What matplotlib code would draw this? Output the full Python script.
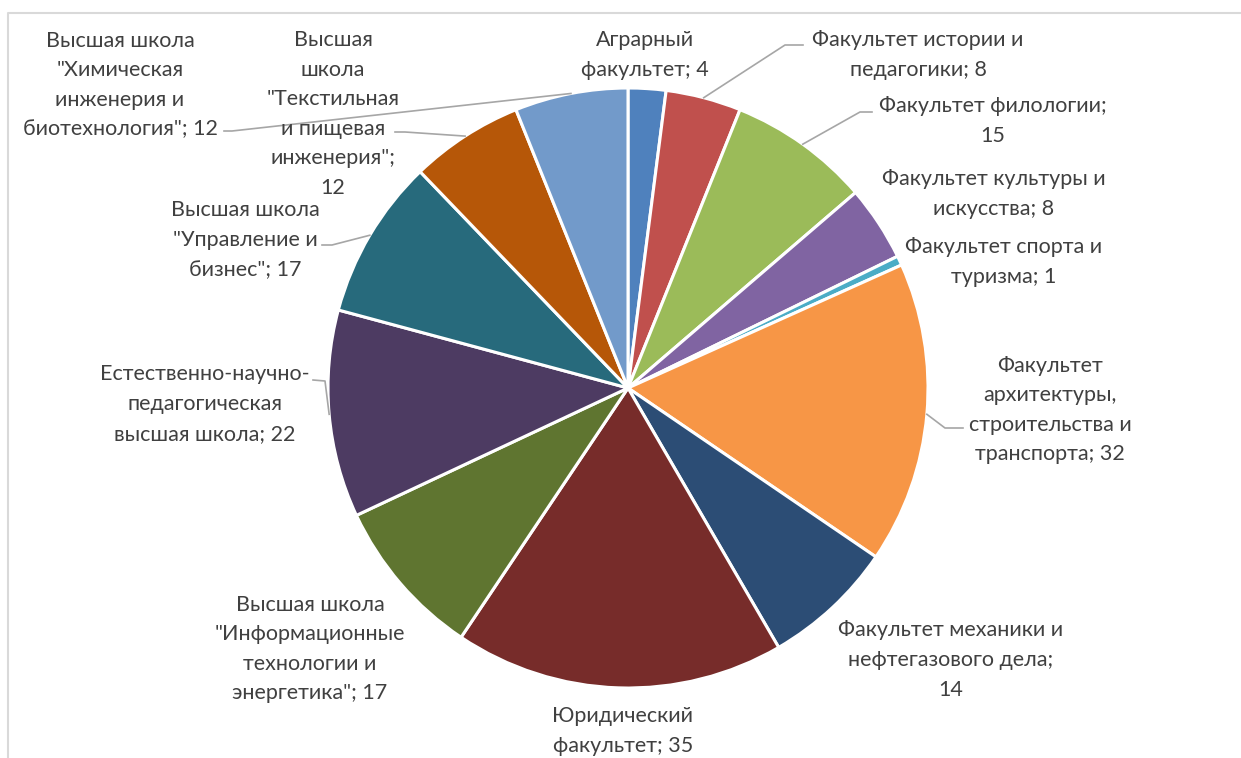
import matplotlib
matplotlib.use("Agg")
import matplotlib.pyplot as plt
import numpy as np

W, H = 1241, 758

labels = [
    "Аграрный\nфакультет; 4",
    "Факультет истории и\nпедагогики; 8",
    "Факультет филологии;\n15",
    "Факультет культуры и\nискусства; 8",
    "Факультет спорта и\nтуризма; 1",
    "Факультет\nархитектуры,\nстроительства и\nтранспорта; 32",
    "Факультет механики и\nнефтегазового дела;\n14",
    "Юридический\nфакультет; 35",
    "Высшая школа\n\"Информационные\nтехнологии и\nэнергетика\"; 17",
    "Естественно-научно-\nпедагогическая\nвысшая школа; 22",
    "Высшая школа\n\"Управление и\nбизнес\"; 17",
    "Высшая\nшкола\n\"Текстильная\nи пищевая\nинженерия\";\n12",
    "Высшая школа\n\"Химическая\nинженерия и\nбиотехнология\"; 12",
]
values = [4, 8, 15, 8, 1, 32, 14, 35, 17, 22, 17, 12, 12]
colors = ["#4F81BD", "#C0504D", "#9BBB59", "#8064A2", "#4BACC6", "#F79646",
          "#2C4D75", "#772C2A", "#5F7530", "#4D3B62", "#276A7C", "#B65708",
          "#729ACA"]

# layout (pixel coordinates, y from top)
CX, CY, R = 628, 388, 300
label_pos = [(645, 55), (918, 55), (993, 121), (994, 194), (1004, 262),
             (1050, 410), (951, 660), (623, 731), (310, 649), (205, 404),
             (245, 240), (333, 114), (120, 85)]
# leader-line elbows (None = no leader line)
leaders = [None, [(785, 45), (803, 45)], [(860, 112), (872, 112)], None, None,
           [(945, 428), (963, 428)], None, None, None,
           [(325, 381), (313, 380)], [(332, 245), (322, 245)],
           [(405, 132), (395, 132)], [(232, 131), (224, 131)]]

plt.rcParams['font.family'] = ['Lato', 'DejaVu Sans']
fig = plt.figure(figsize=(W / 100, H / 100), dpi=100)
ax = fig.add_axes([0, 0, 1, 1])

ax.pie(values, colors=colors, startangle=90, counterclock=False,
       center=(CX, H - CY), radius=R,
       wedgeprops=dict(edgecolor="white", linewidth=2.2))
ax.set_xlim(0, W)
ax.set_ylim(0, H)
ax.set_aspect('auto')
ax.axis('off')

# frame
ax.plot([7.5, 7.5, W + 5], [-5, H - 13, H - 13], color="#D9D9D9", lw=1.5,
        solid_capstyle='butt')

total = sum(values)
cum = 0
for lab, v, pos, ld in zip(labels, values, label_pos, leaders):
    mid = 90 - (cum + v / 2) / total * 360
    cum += v
    ax.text(pos[0], H - pos[1], lab, ha='center', va='center', fontsize=15.5,
            color="#404040", linespacing=1.6)
    if ld is not None:
        ex = CX + R * np.cos(np.radians(mid))
        ey = H - CY + R * np.sin(np.radians(mid))
        xs = [ex] + [p[0] for p in ld]
        ys = [ey] + [H - p[1] for p in ld]
        ax.plot(xs, ys, color="#A6A6A6", lw=1.2)

fig.savefig("out.png", dpi=100)
